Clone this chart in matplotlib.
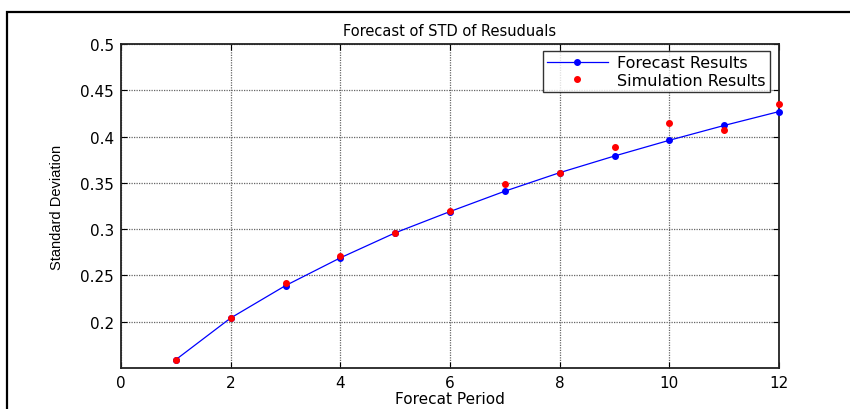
import matplotlib
matplotlib.use("Agg")
import matplotlib.pyplot as plt
from matplotlib.patches import Rectangle

# values
periods = [1, 2, 3, 4, 5, 6, 7, 8, 9, 10, 11, 12]
forecast = [0.159, 0.204, 0.239, 0.269, 0.296, 0.319, 0.341, 0.361, 0.379, 0.396, 0.412, 0.427]
simulation = [0.159, 0.204, 0.242, 0.271, 0.296, 0.320, 0.349, 0.361, 0.389, 0.415, 0.407, 0.435]
xticks = [0, 2, 4, 6, 8, 10, 12]
yticks = [0.2, 0.25, 0.3, 0.35, 0.4, 0.45, 0.5]
ytick_labels = ["0.2", "0.25", "0.3", "0.35", "0.4", "0.45", "0.5"]

plt.rcParams['font.family'] = ['DejaVu Sans']

fig = plt.figure(figsize=(8.5, 4.1), dpi=100)
ax = fig.add_axes([121/850, 1 - 369/410, 658/850, 324/410])

ax.plot(periods, forecast, '-', color='#0000ff', lw=0.9, marker='.', ms=8,
        label='Forecast Results', clip_on=False, zorder=3)
ax.plot(periods, simulation, '.', color='#ff0000', ms=8, label='Simulation Results',
        clip_on=False, zorder=4)

ax.set_xlim(0, 12)
ax.set_ylim(0.15, 0.5)
ax.set_xticks(xticks)
ax.set_yticks(yticks)
ax.set_yticklabels(ytick_labels)
ax.tick_params(direction='in', length=4, width=0.8, top=True, right=True,
               labelsize=11, pad=5, colors='black')
ax.grid(True, linestyle=(0, (1, 1)), color='#666666', lw=0.9)
for s in ax.spines.values():
    s.set_linewidth(1.3)
    s.set_color('#222222')

ax.text(0.5, 1 + 14/324, "Forecast of STD of Resuduals", transform=ax.transAxes,
        ha='center', va='center', fontsize=10.5)
ax.set_xlabel("Forecat Period", fontsize=11, labelpad=1)
ax.set_ylabel("Standard Deviation", fontsize=10.5,
              family=['Liberation Sans Narrow', 'Liberation Sans', 'DejaVu Sans'],
              labelpad=12)

leg = ax.legend(loc='upper right', bbox_to_anchor=(0.986, 0.978), fontsize=11.5,
                frameon=True, fancybox=False, handlelength=3.8, handletextpad=0.6,
                borderpad=0.25, labelspacing=0.15, borderaxespad=0)
leg.get_frame().set_edgecolor('black')
leg.get_frame().set_linewidth(1.0)
leg.set_zorder(5)

# outer figure frame (cut off at the right and bottom)
fig.patches.append(Rectangle((7/850, -0.5), 2, 0.5 + 1 - 13/410, transform=fig.transFigure,
                             fill=False, lw=1.6, edgecolor='black', figure=fig))

fig.savefig("out.png", dpi=100)
